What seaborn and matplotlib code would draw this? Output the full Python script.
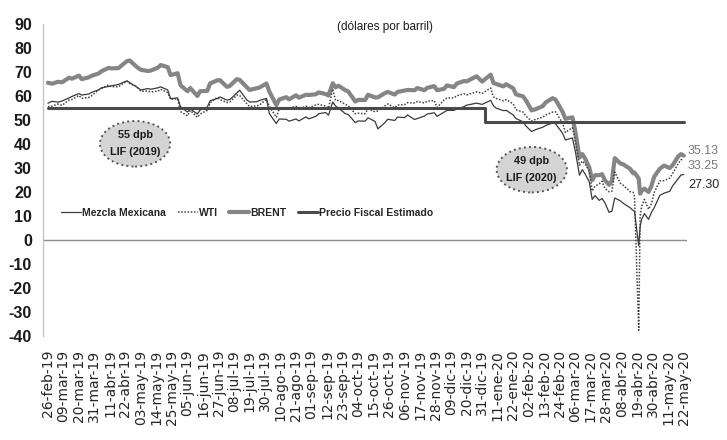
import matplotlib
matplotlib.use("Agg")
import matplotlib.pyplot as plt
from matplotlib.patches import Ellipse
from matplotlib.lines import Line2D
import pandas as pd
import seaborn as sns

# Fechas de las observaciones (precios diarios muestreados)
DATES = [
    "2019-02-26", "2019-03-01", "2019-03-05", "2019-03-08", "2019-03-13", "2019-03-15", "2019-03-20", "2019-03-22", "2019-03-27", "2019-03-29",
    "2019-04-03", "2019-04-05", "2019-04-10", "2019-04-12", "2019-04-17", "2019-04-23", "2019-04-25", "2019-04-30",
    "2019-05-03", "2019-05-08", "2019-05-10", "2019-05-15", "2019-05-17", "2019-05-22", "2019-05-24", "2019-05-29", "2019-05-31",
    "2019-06-05", "2019-06-07", "2019-06-12", "2019-06-14", "2019-06-19", "2019-06-21", "2019-06-26", "2019-06-28",
    "2019-07-03", "2019-07-05", "2019-07-10", "2019-07-12", "2019-07-17", "2019-07-19", "2019-07-24", "2019-07-26", "2019-07-31",
    "2019-08-02", "2019-08-07", "2019-08-09", "2019-08-14", "2019-08-16", "2019-08-21", "2019-08-23", "2019-08-28", "2019-08-30",
    "2019-09-04", "2019-09-06", "2019-09-11", "2019-09-13", "2019-09-16", "2019-09-18", "2019-09-20", "2019-09-25", "2019-09-27",
    "2019-10-02", "2019-10-04", "2019-10-09", "2019-10-11", "2019-10-16", "2019-10-18", "2019-10-23", "2019-10-25", "2019-10-30",
    "2019-11-01", "2019-11-06", "2019-11-08", "2019-11-13", "2019-11-15", "2019-11-20", "2019-11-22", "2019-11-27", "2019-11-29",
    "2019-12-04", "2019-12-06", "2019-12-11", "2019-12-13", "2019-12-18", "2019-12-20", "2019-12-27", "2019-12-31",
    "2020-01-06", "2020-01-08", "2020-01-10", "2020-01-15", "2020-01-17", "2020-01-22", "2020-01-24", "2020-01-29", "2020-01-31",
    "2020-02-04", "2020-02-07", "2020-02-12", "2020-02-14", "2020-02-19", "2020-02-21", "2020-02-26", "2020-02-28",
    "2020-03-04", "2020-03-06", "2020-03-09", "2020-03-11", "2020-03-13", "2020-03-16", "2020-03-18", "2020-03-20", "2020-03-23", "2020-03-25", "2020-03-27", "2020-03-30",
    "2020-04-01", "2020-04-03", "2020-04-07", "2020-04-09", "2020-04-14", "2020-04-16", "2020-04-17", "2020-04-20", "2020-04-21", "2020-04-22", "2020-04-24", "2020-04-27", "2020-04-29",
    "2020-05-01", "2020-05-05", "2020-05-08", "2020-05-12", "2020-05-14", "2020-05-18", "2020-05-20", "2020-05-22",
]

MEZCLA = [
    57.0, 57.8, 57.4, 57.9, 59.2, 59.8, 61.0, 60.4, 60.8, 61.5,
    62.6, 63.4, 64.0, 64.2, 64.8, 66.3, 65.6, 63.7,
    62.5, 63.1, 62.8, 63.4, 63.8, 62.5, 58.9, 59.2, 55.6,
    53.3, 54.6, 52.5, 54.2, 55.3, 58.0, 58.9, 59.6,
    58.3, 58.5, 61.3, 62.4, 58.4, 57.5, 57.6, 58.1, 59.0,
    52.7, 48.5, 50.4, 50.3, 49.5, 50.4, 49.6, 51.3, 50.5,
    51.5, 52.6, 53.1, 52.0, 57.5, 55.8, 55.0, 52.6, 52.3,
    48.9, 49.6, 49.5, 50.9, 49.4, 46.3, 48.9, 50.3, 49.8,
    51.2, 51.0, 52.1, 50.2, 50.6, 51.6, 52.5, 53.0, 51.5,
    53.3, 54.0, 54.0, 54.6, 55.5, 56.2, 57.0, 56.5,
    58.2, 55.9, 54.9, 53.9, 54.0, 52.1, 50.6, 49.2, 47.5,
    45.2, 46.0, 47.0, 47.7, 48.8, 48.4, 44.5, 41.7,
    42.5, 37.1, 27.0, 29.3, 27.5, 24.1, 16.9, 18.5, 16.5, 17.3, 15.5, 11.5,
    12.0, 17.5, 16.3, 15.3, 13.4, 12.3, 12.0, -2.4, 5.5, 8.5, 11.0, 8.6, 11.5,
    13.5, 18.6, 19.5, 20.3, 22.5, 25.6, 27.1, 27.30,
]

WTI = [
    55.5, 55.8, 56.6, 56.1, 58.3, 58.5, 60.2, 59.0, 59.4, 60.1,
    62.5, 63.1, 64.6, 63.9, 63.8, 66.3, 65.2, 63.9,
    61.9, 62.1, 61.7, 62.0, 62.8, 61.4, 58.6, 58.8, 53.5,
    51.7, 54.0, 51.1, 52.5, 54.0, 57.1, 59.4, 58.5,
    57.3, 57.5, 60.4, 60.2, 56.8, 55.6, 55.9, 56.2, 58.6,
    55.7, 51.1, 54.5, 55.2, 54.9, 55.7, 54.2, 55.8, 55.1,
    56.3, 56.5, 55.8, 54.9, 62.9, 58.1, 58.1, 56.5, 55.9,
    52.6, 52.8, 52.6, 54.7, 53.4, 53.8, 55.9, 56.7, 55.1,
    56.2, 56.4, 57.2, 57.1, 57.7, 57.1, 57.8, 58.1, 55.2,
    58.4, 59.2, 59.2, 60.1, 60.9, 60.4, 61.7, 61.1,
    63.3, 59.6, 59.0, 58.0, 58.5, 56.7, 54.2, 53.3, 51.6,
    49.6, 50.3, 51.2, 52.1, 53.3, 53.4, 48.7, 44.8,
    46.8, 41.3, 31.1, 32.9, 31.7, 28.7, 20.4, 22.4, 23.4, 24.5, 21.5, 20.1,
    20.3, 28.3, 23.6, 22.8, 20.1, 19.9, 18.3, -37.6, 10.0, 13.8, 16.9, 12.8, 15.1,
    19.8, 24.6, 24.7, 25.8, 27.6, 31.8, 33.5, 33.25,
]

BRENT = [
    65.5, 65.1, 65.9, 65.7, 67.6, 67.2, 68.5, 67.0, 67.8, 68.4,
    69.4, 70.3, 71.7, 71.5, 71.6, 74.5, 74.8, 72.1,
    70.9, 70.4, 70.6, 71.8, 72.9, 72.0, 68.7, 69.5, 64.5,
    62.0, 63.3, 60.0, 62.0, 62.1, 65.2, 66.5, 66.6,
    63.8, 64.2, 67.0, 66.7, 63.7, 62.5, 63.2, 63.5, 65.2,
    61.9, 56.2, 58.5, 59.5, 58.6, 60.3, 59.3, 60.5, 60.4,
    60.7, 61.5, 60.8, 60.2, 65.3, 63.6, 64.3, 62.4, 61.9,
    57.7, 58.4, 58.3, 60.5, 59.4, 59.4, 61.2, 61.7, 60.6,
    61.7, 62.3, 62.5, 62.4, 63.3, 62.4, 63.4, 64.1, 62.4,
    63.0, 64.4, 63.7, 65.2, 66.2, 66.1, 68.2, 66.0,
    68.9, 65.4, 65.0, 64.0, 64.9, 63.2, 60.7, 59.8, 58.2,
    54.0, 54.5, 55.8, 57.3, 59.1, 58.5, 53.4, 50.5,
    51.1, 45.3, 34.4, 35.8, 33.9, 30.1, 24.9, 27.0, 27.0, 27.4, 24.9, 23.0,
    24.7, 34.1, 31.9, 31.5, 29.6, 27.8, 28.1, 25.6, 19.3, 20.4, 21.4, 20.0, 22.5,
    26.4, 29.7, 31.0, 30.0, 31.1, 34.8, 35.8, 35.13,
]

# Precio fiscal estimado (LIF 2019 y LIF 2020)
FISCAL_DATES = ["2019-02-26", "2020-01-02", "2020-05-22"]
FISCAL = [55, 49, 49]

END_LABELS = ["35.13", "33.25", "27.30"]
MESES = ["ene", "feb", "mar", "abr", "may", "jun", "jul", "ago", "sep", "oct", "nov", "dic"]

sns.set_theme(style="white")
plt.rcParams["font.family"] = ["DejaVu Sans"]
plt.rcParams["axes.unicode_minus"] = False
LIB = "Liberation Sans"

df = pd.DataFrame({"fecha": pd.to_datetime(DATES), "mezcla": MEZCLA, "wti": WTI, "brent": BRENT})
fiscal = pd.DataFrame({"fecha": pd.to_datetime(FISCAL_DATES), "precio": FISCAL})

fig = plt.figure(figsize=(7.27, 4.40), dpi=100)
ax = fig.add_axes([0.0591, 0.2364, 0.8858, 0.7091])

ax.axhline(0, color="#8c8c8c", lw=1.0, zorder=1)

sns.lineplot(data=df, x="fecha", y="brent", ax=ax, color="#858585", lw=3.0, zorder=3)
sns.lineplot(data=df, x="fecha", y="wti", ax=ax, color="#404040", lw=1.1, linestyle=(0, (1, 1.1)), zorder=4)
sns.lineplot(data=df, x="fecha", y="mezcla", ax=ax, color="#3a3a3a", lw=0.9, zorder=4)
sns.lineplot(data=fiscal, x="fecha", y="precio", ax=ax, color="#4a4a4a", lw=2.2,
             drawstyle="steps-post", zorder=5)

first, last = df["fecha"].iloc[0], df["fecha"].iloc[-1]
ax.set_xlim(first - pd.Timedelta(days=3.5), last + pd.Timedelta(days=2.2))
ax.set_ylim(-40, 90)
ax.set_yticks(range(-40, 91, 10))

ticks = pd.date_range(first, last, freq="11D")
ax.set_xticks(ticks)
ax.set_xticklabels([f"{d.day:02d}-{MESES[d.month - 1]}-{d.year % 100:02d}" for d in ticks],
                   rotation=90, fontsize=10, fontfamily="DejaVu Sans", fontweight="normal",
                   color="#262626")
ax.set_yticklabels([str(v) for v in range(-40, 91, 10)], fontsize=11.5, fontfamily=LIB,
                   fontweight="bold", color="#1a1a1a")
ax.tick_params(axis="x", length=0, pad=10)
ax.tick_params(axis="y", length=0, pad=8)
ax.set_xlabel("")
ax.set_ylabel("")

for side in ["top", "right", "bottom"]:
    ax.spines[side].set_visible(False)
ax.spines["left"].set_color("#c4c4c4")
ax.spines["left"].set_linewidth(1.0)

# Leyenda
handles = [
    Line2D([], [], color="#3a3a3a", lw=0.9),
    Line2D([], [], color="#404040", lw=1.1, linestyle=(0, (1, 1.1))),
    Line2D([], [], color="#858585", lw=3.0),
    Line2D([], [], color="#4a4a4a", lw=2.2),
]
ax.legend(handles, ["Mezcla Mexicana", "WTI", "BRENT", "Precio Fiscal Estimado"],
          loc="center left", bbox_to_anchor=(0.014, 0.394), ncol=4, frameon=False,
          handlelength=1.9, handletextpad=0.12, columnspacing=1.1,
          prop={"family": LIB, "weight": "bold", "size": 7.5})

# Globos LIF
for cx, cy, txt in [(0.143, 0.616, "55 dpb\nLIF (2019)"), (0.759, 0.533, "49 dpb\nLIF (2020)")]:
    ax.add_patch(Ellipse((cx, cy), 0.109, 0.146, transform=ax.transAxes,
                         facecolor="#d4d4d4", edgecolor="#555555", lw=1.4, linestyle=":", zorder=6))
    ax.text(cx, cy, txt, transform=ax.transAxes, ha="center", va="center", zorder=7,
            fontfamily=LIB, fontweight="bold", fontsize=7.8, color="#1a1a1a", linespacing=1.9)

# Etiquetas del ultimo dato
for txt, ypos, col in zip(END_LABELS, [37.2, 30.7, 23.1], ["#7a7a7a", "#7a7a7a", "#262626"]):
    ax.annotate(txt, xy=(last, ypos), xytext=(3, 0), textcoords="offset points",
                ha="left", va="center", fontfamily=LIB, fontsize=9, color=col,
                annotation_clip=False)

fig.text(385 / 727, 1 - 27 / 440, "(dólares por barril)", ha="center", va="center",
         fontfamily=LIB, fontsize=8.5, color="#1a1a1a")

fig.savefig("out.png", dpi=100)
